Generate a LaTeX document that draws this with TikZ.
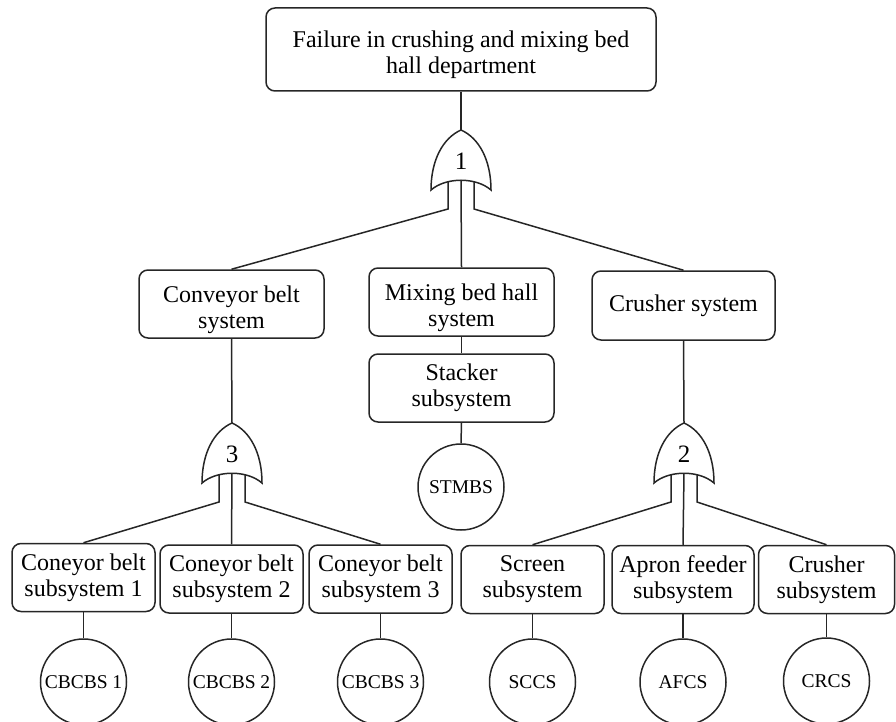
\documentclass[tikz,border=0pt]{standalone}
\usepackage{fontspec}
\setmainfont{Liberation Serif}
% OR gate body, apex at the local origin, pointing up
\newcommand\orgatebody[2]{%
  \draw[fill=white] (-30,60) .. controls (-30,30) and (-18,8) .. (0,0)
    .. controls (18,8) and (30,30) .. (30,60)
    .. controls (15,47) and (-15,47) .. cycle;
  \node[gatenum] (#1-num) at (0,31) {#2};
}
% taller first line, so the text block sits lower in its frame
\newcommand\lowertext{\rule{0pt}{28pt}}
\begin{document}
\begin{tikzpicture}[x=1pt,y=-1pt,
  line width=1.5pt, draw=black!85,
  box/.style={draw, rounded corners=9pt, align=center, inner sep=0pt,
    font=\fontsize{24}{26}\selectfont},
  subbox/.style={box, minimum width=143pt, minimum height=68pt},
  sysbox/.style={box, minimum width=185pt, minimum height=68pt},
  basic/.style={draw, circle, minimum size=86pt, inner sep=0pt,
    font=\fontsize{19.5}{22}\selectfont},
  gatenum/.style={font=\fontsize{25}{28}\selectfont, inner sep=0pt}]
\useasboundingbox (0,0) rectangle (896,722);

% top event
\node[box, minimum width=390pt, minimum height=83pt] (top) at (461,49.5)
  {\lowertext Failure in crushing and mixing bed\\hall department};

% second level
\node[sysbox] (cbs) at (231.5,304) {\lowertext Conveyor belt\\system};
\node[sysbox] (mbh) at (461.5,302) {\lowertext Mixing bed hall\\system};
\node[sysbox, minimum width=183pt, minimum height=69pt] (crs) at (683.5,305.5) {Crusher system};
\node[sysbox] (stk) at (461.5,388) {Stacker\\subsystem};

% subsystems
\node[subbox] (sub1) at (83.5,577.5) {Coneyor belt\\subsystem 1};
\node[subbox] (sub2) at (231.5,579) {Coneyor belt\\subsystem 2};
\node[subbox] (sub3) at (380.5,579) {Coneyor belt\\subsystem 3};
\node[subbox] (scr) at (532.5,579.5) {Screen\\subsystem};
\node[subbox, minimum width=142pt] (apr) at (683,579.5) {Apron feeder\\subsystem};
\node[subbox, minimum width=136pt] (csub) at (826.5,579.5) {Crusher\\subsystem};

% basic events
\node[basic] (stmbs) at (461,487) {STMBS};
\node[basic] (cb1) at (83.5,682) {CBCBS 1};
\node[basic] (cb2) at (231.5,682) {CBCBS 2};
\node[basic] (cb3) at (380.5,682) {CBCBS 3};
\node[basic] (sccs) at (532.5,682) {SCCS};
\node[basic] (afcs) at (683,682) {AFCS};
\node[basic] (crcs) at (826.5,681) {CRCS};

% gate anchor points
\foreach \n/\x/\y in {g1/461/130, g3/232/423, g2/684/423}{
  \begin{scope}[shift={(\x,\y)}]
    \coordinate (\n) at (0,0);
    \coordinate (\n-lt) at (-13,52);
    \coordinate (\n-lb) at (-13,79);
    \coordinate (\n-ct) at (0,50);
    \coordinate (\n-rt) at (13,52);
    \coordinate (\n-rb) at (13,79);
  \end{scope}
}

% connectors
\draw (top.south) -- (g1);
\draw (g1-lt) -- (g1-lb) -- (cbs.north);
\draw (g1-ct) -- (mbh.north);
\draw (g1-rt) -- (g1-rb) -- (crs.north);
\draw (mbh.south) -- (stk.north);
\draw (stk.south) -- (stmbs.north);

\draw (cbs.south) -- (g3);
\draw (g3-lt) -- (g3-lb) -- (sub1.north);
\draw (g3-ct) -- (sub2.north);
\draw (g3-rt) -- (g3-rb) -- (sub3.north);

\draw (crs.south) -- (g2);
\draw (g2-lt) -- (g2-lb) -- (scr.north);
\draw (g2-ct) -- (apr.north);
\draw (g2-rt) -- (g2-rb) -- (csub.north);

\draw (sub1) -- (cb1);
\draw (sub2) -- (cb2);
\draw (sub3) -- (cb3);
\draw (scr) -- (sccs);
\draw (apr) -- (afcs);
\draw (csub) -- (crcs);

% OR gates
\begin{scope}[shift={(461,130)}]\orgatebody{g1}{1}\end{scope}
\begin{scope}[shift={(232,423)}]\orgatebody{g3}{3}\end{scope}
\begin{scope}[shift={(684,423)}]\orgatebody{g2}{2}\end{scope}
\end{tikzpicture}
\end{document}
